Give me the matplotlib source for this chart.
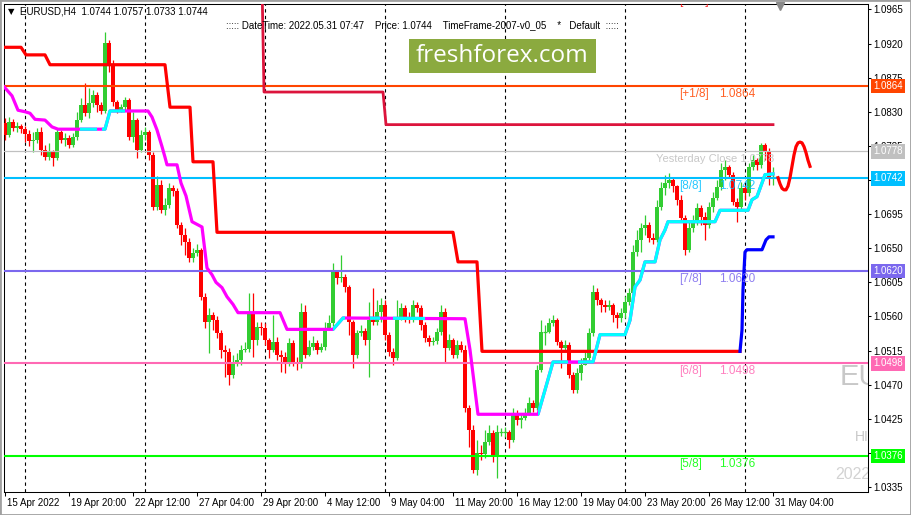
import matplotlib
matplotlib.use("Agg")
import matplotlib.pyplot as plt
import matplotlib.transforms as mtransforms
from matplotlib.patches import Rectangle
import numpy as np

plt.rcParams['font.family'] = ['Liberation Sans', 'DejaVu Sans']

# EURUSD H4 candles (open of each bar = previous close)
first_open = 1.0815
closes = [1.0799, 1.0817, 1.0809, 1.0811, 1.0807, 1.0801, 1.0791, 1.0793, 1.0803, 1.0780,
          1.0770, 1.0777, 1.0769, 1.0803, 1.0793, 1.0795, 1.0786, 1.0797, 1.0819, 1.0839,
          1.0828, 1.0842, 1.0852, 1.0839, 1.0831, 1.0921, 1.0892, 1.0843, 1.0832, 1.0836,
          1.0845, 1.0797, 1.0819, 1.0780, 1.0799, 1.0803, 1.0773, 1.0704, 1.0733, 1.0700,
          1.0707, 1.0729, 1.0726, 1.0681, 1.0667, 1.0658, 1.0637, 1.0644, 1.0648, 1.0586,
          1.0553, 1.0562, 1.0555, 1.0538, 1.0516, 1.0513, 1.0483, 1.0500, 1.0503, 1.0516,
          1.0517, 1.0565, 1.0529, 1.0546, 1.0545, 1.0529, 1.0516, 1.0526, 1.0509, 1.0507,
          1.0500, 1.0525, 1.0500, 1.0499, 1.0566, 1.0509, 1.0520, 1.0525, 1.0516, 1.0520,
          1.0545, 1.0551, 1.0619, 1.0611, 1.0612, 1.0599, 1.0553, 1.0509, 1.0538, 1.0541,
          1.0529, 1.0555, 1.0553, 1.0566, 1.0575, 1.0535, 1.0513, 1.0505, 1.0559, 1.0571,
          1.0559, 1.0555, 1.0575, 1.0571, 1.0549, 1.0532, 1.0526, 1.0528, 1.0539, 1.0566,
          1.0518, 1.0529, 1.0509, 1.0522, 1.0516, 1.0439, 1.0410, 1.0357, 1.0380, 1.0379,
          1.0394, 1.0406, 1.0377, 1.0408, 1.0408, 1.0408, 1.0397, 1.0433, 1.0423, 1.0426,
          1.0433, 1.0446, 1.0439, 1.0489, 1.0539, 1.0539, 1.0551, 1.0555, 1.0526, 1.0518,
          1.0522, 1.0483, 1.0463, 1.0485, 1.0496, 1.0505, 1.0538, 1.0592, 1.0582, 1.0575,
          1.0572, 1.0575, 1.0562, 1.0558, 1.0565, 1.0579, 1.0591, 1.0645, 1.0661, 1.0677,
          1.0681, 1.0663, 1.0661, 1.0704, 1.0729, 1.0736, 1.0740, 1.0732, 1.0714, 1.0690,
          1.0648, 1.0677, 1.0687, 1.0703, 1.0691, 1.0681, 1.0704, 1.0716, 1.0731, 1.0753,
          1.0757, 1.0747, 1.0711, 1.0704, 1.0729, 1.0723, 1.0757, 1.0766, 1.0760, 1.0786,
          1.0778, 1.0744, 1.0744]
highs = [1.0822, 1.0823, 1.0820, 1.0817, 1.0814, 1.0811, 1.0806, 1.0803, 1.0809, 1.0810,
         1.0786, 1.0789, 1.0780, 1.0809, 1.0806, 1.0802, 1.0799, 1.0802, 1.0830, 1.0848,
         1.0868, 1.0861, 1.0859, 1.0856, 1.0843, 1.0935, 1.0925, 1.0898, 1.0845, 1.0840,
         1.0850, 1.0848, 1.0830, 1.0822, 1.0806, 1.0810, 1.0806, 1.0777, 1.0745, 1.0740,
         1.0716, 1.0736, 1.0733, 1.0729, 1.0685, 1.0677, 1.0663, 1.0650, 1.0656, 1.0650,
         1.0591, 1.0571, 1.0566, 1.0561, 1.0542, 1.0522, 1.0518, 1.0509, 1.0512, 1.0522,
         1.0526, 1.0591, 1.0591, 1.0553, 1.0553, 1.0551, 1.0532, 1.0562, 1.0533, 1.0516,
         1.0513, 1.0532, 1.0529, 1.0507, 1.0578, 1.0575, 1.0529, 1.0534, 1.0529, 1.0525,
         1.0553, 1.0562, 1.0630, 1.0621, 1.0641, 1.0616, 1.0601, 1.0555, 1.0542, 1.0549,
         1.0545, 1.0579, 1.0597, 1.0582, 1.0584, 1.0582, 1.0539, 1.0518, 1.0582, 1.0578,
         1.0575, 1.0566, 1.0582, 1.0579, 1.0575, 1.0553, 1.0535, 1.0533, 1.0545, 1.0575,
         1.0571, 1.0537, 1.0532, 1.0529, 1.0528, 1.0522, 1.0443, 1.0417, 1.0397, 1.0390,
         1.0410, 1.0417, 1.0410, 1.0417, 1.0413, 1.0414, 1.0410, 1.0439, 1.0437, 1.0431,
         1.0439, 1.0454, 1.0450, 1.0496, 1.0555, 1.0549, 1.0558, 1.0562, 1.0558, 1.0529,
         1.0529, 1.0526, 1.0487, 1.0492, 1.0505, 1.0516, 1.0545, 1.0602, 1.0597, 1.0584,
         1.0582, 1.0582, 1.0578, 1.0566, 1.0571, 1.0587, 1.0597, 1.0654, 1.0674, 1.0683,
         1.0694, 1.0685, 1.0670, 1.0714, 1.0737, 1.0747, 1.0749, 1.0743, 1.0733, 1.0720,
         1.0694, 1.0685, 1.0694, 1.0710, 1.0707, 1.0698, 1.0711, 1.0724, 1.0740, 1.0762,
         1.0766, 1.0760, 1.0750, 1.0716, 1.0737, 1.0733, 1.0762, 1.0773, 1.0769, 1.0789,
         1.0789, 1.0782, 1.0757]
lows = [1.0793, 1.0797, 1.0805, 1.0803, 1.0802, 1.0790, 1.0785, 1.0777, 1.0789, 1.0773,
        1.0766, 1.0766, 1.0758, 1.0766, 1.0789, 1.0785, 1.0782, 1.0784, 1.0793, 1.0817,
        1.0824, 1.0822, 1.0836, 1.0830, 1.0827, 1.0828, 1.0882, 1.0838, 1.0828, 1.0830,
        1.0832, 1.0793, 1.0790, 1.0769, 1.0777, 1.0793, 1.0766, 1.0700, 1.0700, 1.0697,
        1.0694, 1.0703, 1.0719, 1.0677, 1.0654, 1.0641, 1.0632, 1.0632, 1.0640, 1.0582,
        1.0545, 1.0512, 1.0542, 1.0532, 1.0505, 1.0480, 1.0470, 1.0479, 1.0495, 1.0496,
        1.0513, 1.0513, 1.0507, 1.0522, 1.0535, 1.0522, 1.0505, 1.0513, 1.0503, 1.0487,
        1.0485, 1.0495, 1.0495, 1.0489, 1.0492, 1.0505, 1.0508, 1.0516, 1.0510, 1.0513,
        1.0516, 1.0542, 1.0547, 1.0603, 1.0605, 1.0592, 1.0535, 1.0492, 1.0505, 1.0534,
        1.0522, 1.0480, 1.0549, 1.0549, 1.0553, 1.0529, 1.0508, 1.0496, 1.0503, 1.0555,
        1.0553, 1.0551, 1.0553, 1.0566, 1.0542, 1.0526, 1.0521, 1.0522, 1.0524, 1.0535,
        1.0499, 1.0516, 1.0505, 1.0505, 1.0513, 1.0434, 1.0388, 1.0353, 1.0351, 1.0371,
        1.0373, 1.0390, 1.0368, 1.0347, 1.0402, 1.0401, 1.0387, 1.0394, 1.0417, 1.0413,
        1.0423, 1.0430, 1.0434, 1.0437, 1.0487, 1.0522, 1.0538, 1.0547, 1.0522, 1.0492,
        1.0516, 1.0479, 1.0459, 1.0459, 1.0476, 1.0496, 1.0503, 1.0534, 1.0575, 1.0566,
        1.0566, 1.0569, 1.0553, 1.0545, 1.0553, 1.0558, 1.0575, 1.0584, 1.0640, 1.0645,
        1.0667, 1.0658, 1.0656, 1.0658, 1.0700, 1.0720, 1.0729, 1.0724, 1.0707, 1.0685,
        1.0641, 1.0645, 1.0671, 1.0681, 1.0681, 1.0661, 1.0677, 1.0698, 1.0714, 1.0727,
        1.0740, 1.0743, 1.0707, 1.0685, 1.0700, 1.0714, 1.0719, 1.0753, 1.0753, 1.0756,
        1.0766, 1.0733, 1.0733]

# time axis
date_bars = [0, 16, 32, 48, 64, 80, 96, 112, 128, 144, 160, 176, 192]
date_labels = ['15 Apr 2022', '19 Apr 20:00', '22 Apr 12:00', '27 Apr 04:00', '29 Apr 20:00',
               '4 May 12:00', '9 May 04:00', '11 May 20:00', '16 May 12:00', '19 May 04:00',
               '23 May 20:00', '26 May 12:00', '31 May 04:00']
week_starts = [5, 35, 65, 95, 125, 155, 185]
price_ticks = [1.0335, 1.0380, 1.0425, 1.0470, 1.0515, 1.0560, 1.0605, 1.0650, 1.0695,
               1.0740, 1.0785, 1.0830, 1.0875, 1.0920, 1.0965]

# Murray math levels
levels = [1.0986, 1.0864, 1.0742, 1.0620, 1.0498, 1.0376]
level_tags = ['[+2/8]', '[+1/8]', '[8/8]', '[7/8]', '[6/8]', '[5/8]']
level_colors = ['#FF0000', '#FF4500', '#00BFFF', '#7B68EE', '#FF69B4', '#00FF00']
yesterday_close = 1.0778

# red envelope step line, then blue continuation
env_bars = [-1, 4, 5.25, 10, 11.25, 40, 41.25, 46.25, 47, 52, 53, 112, 113.25, 118, 119.25, 183.75]
env_vals = [1.0915, 1.0915, 1.0905, 1.0905, 1.0892, 1.0892, 1.0836, 1.0836, 1.0764, 1.0764,
            1.0671, 1.0671, 1.0632, 1.0632, 1.0514, 1.0514]
blue_bars = [183.75, 184.25, 184.5, 185, 185.5, 189.25, 190.25, 191, 192]
blue_vals = [1.0514, 1.0542, 1.0595, 1.0645, 1.0648, 1.0648, 1.0661, 1.0665, 1.0665]

# crimson step line
crim_bars = [64.25, 64.75, 94.5, 95.25, 192]
crim_vals = [1.1000, 1.0856, 1.0856, 1.0813, 1.0813]

# magenta / cyan trailing line
trail_bars = [-0.25, 1.75, 3.25, 5, 6.25, 7.5, 10, 11.75, 13.25, 25, 26.25, 35.75, 36.75, 38,
              39.25, 40, 40.5, 43, 44, 45.25, 46.75, 49.25, 50.5, 51.75, 52.75, 54.25, 55.5,
              57, 58.25, 68.75, 70.5, 82, 84.5, 115, 116.25, 118.25, 133.25, 135, 137, 147,
              148.75, 155, 156.25, 157.5, 158.75, 160, 162.5, 163.75, 165, 165.75, 177.5,
              178.75, 185.75, 186.75, 188, 189.25, 190, 192]
trail_vals = [1.0863, 1.0851, 1.0832, 1.0830, 1.0828, 1.0820, 1.0819, 1.0810, 1.0807, 1.0807,
              1.0831, 1.0831, 1.0823, 1.0806, 1.0784, 1.0770, 1.0760, 1.0760, 1.0736, 1.0719,
              1.0685, 1.0678, 1.0624, 1.0615, 1.0605, 1.0598, 1.0586, 1.0576, 1.0565, 1.0565,
              1.0543, 1.0543, 1.0558, 1.0557, 1.0516, 1.0431, 1.0431, 1.0463, 1.0500, 1.0500,
              1.0536, 1.0536, 1.0555, 1.0599, 1.0608, 1.0632, 1.0632, 1.0661, 1.0674, 1.0685,
              1.0685, 1.0700, 1.0700, 1.0714, 1.0718, 1.0736, 1.0747, 1.0748]
cyan_spans = [(18.75, 23), (24.25, 30), (82, 85), (91.25, 93.75), (97, 105),
              (133.25, 140.75), (143.25, 192.5)]

# projected path
fc_bars = [193.25, 193.75, 194.25, 194.75, 195.25, 195.75, 196.25, 196.75, 197.25, 197.75,
           198.25, 198.75, 199.25, 199.75, 200.25, 200.75, 201.25]
fc_vals = [1.0743, 1.0735, 1.0729, 1.0727, 1.0727, 1.0732, 1.0743, 1.0758, 1.0773, 1.0784,
           1.0789, 1.0790, 1.0789, 1.0784, 1.0776, 1.0766, 1.0758]

W, H = 911, 515
fig = plt.figure(figsize=(W / 100, H / 100), dpi=100)
ax = fig.add_axes([4 / W, 23 / H, 864 / W, 488 / H])
ax.set_xlim(-0.25, 215.75)
ax.set_ylim(1.03285, 1.09721)

#### weekly separators
for b in week_starts:
    ax.axvline(b, color='black', lw=0.8, dashes=(3, 3), zorder=1)

#### candles
o = np.array([first_open] + closes[:-1])
c = np.array(closes)
idx = np.arange(len(c))
cols = np.where(c >= o, '#32CD32', '#FF0000')
ax.vlines(idx, lows, highs, colors=cols, lw=0.9, zorder=3)
ax.bar(idx, np.abs(c - o), bottom=np.minimum(c, o), width=0.8, color=cols, lw=0, zorder=3)
doji = c == o
ax.hlines(c[doji], idx[doji] - 0.4, idx[doji] + 0.4, colors=cols[doji], lw=0.9, zorder=3)

#### levels
off = mtransforms.ScaledTranslation(0, -8 / 100, fig.dpi_scale_trans)
for lvl, tag, col in zip(levels, level_tags, level_colors):
    ax.axhline(lvl, color=col, lw=1.5, zorder=3.5)
    ax.text(168.5, lvl, tag, transform=ax.transData + off, color=col, alpha=0.85,
            fontsize=8.5, va='center', ha='left', clip_on=True, zorder=5)
    ax.text(178.5, lvl, '%.4f' % lvl, transform=ax.transData + off, color=col, alpha=0.85,
            fontsize=8.5, va='center', ha='left', clip_on=True, zorder=5)
ax.axhline(yesterday_close, color='#C0C0C0', lw=0.9, zorder=3.5)
ax.text(162.75, yesterday_close, 'Yesterday Close %.4f' % yesterday_close,
        transform=ax.transData + off, color='#C8C8C8', fontsize=8, va='center', zorder=5)

#### indicator lines
ax.plot(env_bars, env_vals, color='#FF0000', lw=2.3, zorder=4)
ax.plot(blue_bars, blue_vals, color='#0000FF', lw=2.3, zorder=4)
ax.plot(crim_bars, crim_vals, color='#DC143C', lw=2.0, zorder=4)
ax.plot(trail_bars, trail_vals, color='#FF00FF', lw=2.3, zorder=4)
for s, e in cyan_spans:
    ln, = ax.plot(trail_bars, trail_vals, color='#00FFFF', lw=2.3, zorder=4.1)
    ln.set_clip_path(Rectangle((s, 1.0), e - s, 0.2, transform=ax.transData))
ax.plot(fc_bars, fc_vals, color='#FF0000', lw=2.3, zorder=4)

#### watermark pieces on the right edge
ax.text(208.75, 1.0480, 'EURUSD', fontsize=21, color='#C8C8C8', va='center', clip_on=True, zorder=0.5)
ax.text(212.5, 1.0401, 'HIGH', fontsize=10, color='#C8C8C8', va='center', clip_on=True, zorder=0.5)
ax.text(207.5, 1.0351, '2022', fontsize=11.5, color='#D3D3D3', va='center', clip_on=True, zorder=0.5)
ax.plot([193.75], [1.0969], marker='v', ms=5.5, color='#8A8A8A', clip_on=False, zorder=11)

#### axes
ax.yaxis.tick_right()
ax.set_yticks(price_ticks)
ax.set_yticklabels(['%.4f' % p for p in price_ticks])
ax.tick_params(axis='y', direction='out', length=2.5, width=0.75, labelsize=7, pad=1.5)
ax.set_xticks(date_bars)
ax.set_xticklabels(date_labels)
ax.tick_params(axis='x', direction='out', length=3, width=0.75, labelsize=7, pad=1)
shift = mtransforms.ScaledTranslation(2 / 100, 0, fig.dpi_scale_trans)
for lbl in ax.get_xticklabels():
    lbl.set_horizontalalignment('left')
    lbl.set_transform(lbl.get_transform() + shift)
for sp in ax.spines.values():
    sp.set_linewidth(0.75)

# price boxes on the axis
for lvl, col in list(zip(levels[1:], level_colors[1:])) + [(yesterday_close, '#C0C0C0')]:
    ax.annotate('%.4f' % lvl, xy=(1, lvl), xycoords=('axes fraction', 'data'),
                xytext=(5, 0), textcoords='offset pixels', ha='left', va='center',
                fontsize=7, color='white', annotation_clip=False, zorder=10,
                bbox=dict(boxstyle='square,pad=0.25', fc=col, ec='none'))

#### header text and logo
fig.text(8 / W, 1 - 12 / H, '\u25bc', fontsize=6, va='center', family='DejaVu Sans')
fig.text(20 / W, 1 - 12 / H, 'EURUSD,H4  1.0744 1.0757 1.0733 1.0744', fontsize=7, va='center')
fig.text(226 / W, 1 - 25 / H,
         '::::: DateTime: 2022.05.31 07:47    Price: 1.0744    TimeFrame-2007-v0_05    *   Default  :::::',
         fontsize=7, va='center')
fig.patches.append(Rectangle((409 / W, 1 - 73 / H), 187 / W, 34 / H, transform=fig.transFigure,
                             fc='#8BAA3F', ec='none', zorder=5))
fig.text(502.5 / W, 1 - 56 / H, 'freshforex.com', fontsize=17.5, color='white',
         family='Open Sans', ha='center', va='center', zorder=6)
fig.patches.append(Rectangle((0, 0), 1, 1, transform=fig.transFigure, fill=False,
                             ec='#A0A0A0', lw=2))

fig.savefig('out.png', dpi=100)
